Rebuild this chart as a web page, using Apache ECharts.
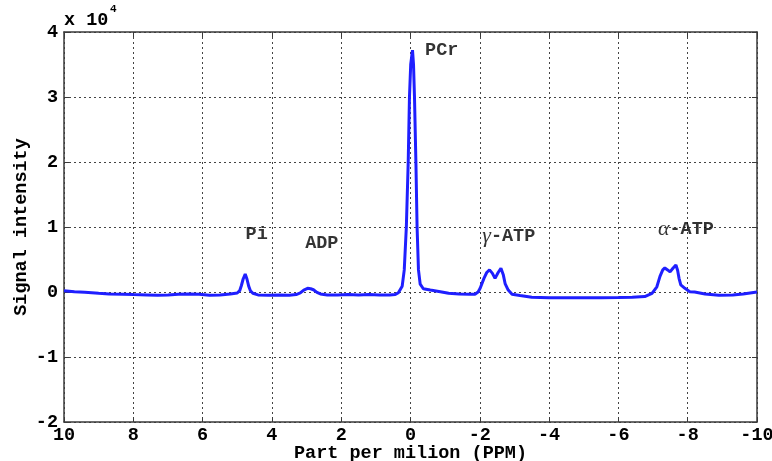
<!DOCTYPE html>
<html>
<head>
<meta charset="utf-8">
<script src="https://cdn.jsdelivr.net/npm/echarts@6/dist/echarts.min.js"></script>
<style>
html,body{margin:0;padding:0;background:#fff;}
#chart{width:772px;height:461px;}
</style>
</head>
<body>
<div id="chart"></div>
<script>
// Spectrum: chemical shift (ppm) and intensity (x 10^4)
var ppm = [10.0,9.7,9.4,9.0,8.7,8.3,8.0,7.6,7.3,7.0,6.7,6.4,6.1,5.8,5.5,5.2,5.0,4.93,4.88,4.83,4.77,4.72,4.67,4.62,4.55,4.4,4.1,3.8,3.5,3.3,3.18,3.08,2.97,2.88,2.8,2.7,2.6,2.4,2.1,1.8,1.5,1.2,0.9,0.6,0.44,0.35,0.30,0.24,0.18,0.12,0.066,0.03,-0.006,-0.058,-0.087,-0.115,-0.156,-0.19,-0.23,-0.28,-0.37,-0.57,-0.86,-1.1,-1.4,-1.7,-1.86,-1.95,-2.01,-2.12,-2.2,-2.28,-2.36,-2.44,-2.53,-2.61,-2.68,-2.73,-2.82,-2.93,-3.16,-3.5,-4.0,-4.5,-5.0,-5.5,-6.0,-6.4,-6.76,-6.97,-7.11,-7.2,-7.28,-7.34,-7.42,-7.49,-7.58,-7.66,-7.71,-7.75,-7.8,-7.92,-8.06,-8.2,-8.5,-8.9,-9.3,-9.6,-10.0];
var signal = [0.02,0.005,-0.005,-0.02,-0.03,-0.035,-0.04,-0.045,-0.05,-0.045,-0.035,-0.03,-0.035,-0.05,-0.045,-0.03,-0.015,0.02,0.1,0.2,0.275,0.2,0.09,0.02,-0.02,-0.045,-0.05,-0.045,-0.05,-0.04,-0.015,0.03,0.057,0.05,0.035,-0.005,-0.03,-0.045,-0.045,-0.04,-0.045,-0.04,-0.045,-0.045,-0.04,-0.01,0.015,0.09,0.34,1.0,2.0,3.0,3.5,3.72,3.5,3.0,2.0,1.0,0.34,0.12,0.05,0.03,0.005,-0.02,-0.03,-0.035,-0.035,0.0,0.057,0.21,0.3,0.34,0.29,0.21,0.3,0.365,0.26,0.13,0.03,-0.035,-0.055,-0.08,-0.09,-0.09,-0.09,-0.09,-0.085,-0.08,-0.07,-0.02,0.08,0.24,0.34,0.37,0.34,0.31,0.37,0.415,0.33,0.21,0.11,0.057,0.005,0.0,-0.03,-0.05,-0.045,-0.03,0.0];
// Peak annotations
var peakNames = ['Pi','ADP','PCr','{g|\u03b3}-ATP','{g|\u03b1}-ATP'];
var peakX = [4.76,3.04,-0.42,-2.07,-7.14];
var peakY = [0.88,0.75,3.72,0.86,0.97];
// Ticks
var xTicks = [10,8,6,4,2,0,-2,-4,-6,-8,-10];
var yTicks = [-2,-1,0,1,2,3,4];

var SCALE = 1e4;
var lineData = ppm.map(function(p,i){return [p, signal[i]*SCALE];});
var labelData = peakNames.map(function(n,i){return {name:n, value:[peakX[i], peakY[i]*SCALE]};});

var FONT = 'Liberation Mono';
var TXT = '#000';
var FS = 18.5;
var tickFont = {fontFamily:FONT, fontWeight:'bold', fontSize:FS, color:TXT};
var gridLine = {show:true, lineStyle:{color:'#444', type:[2,3], width:1}};
var axLine = {show:true, onZero:false, lineStyle:{color:'#3a3a3a', width:1.5}};
var tick = {show:true, inside:true, length:5, lineStyle:{color:'#3a3a3a'}};

var chart = echarts.init(document.getElementById('chart'), null, {renderer:'canvas'});
chart.setOption({
  animation:false,
  backgroundColor:'#fff',
  grid:{left:64, right:15, top:32, bottom:39, containLabel:false, outerBoundsMode:'none'},
  xAxis:[{
    type:'value', min:-10, max:10, interval:2, inverse:true,
    axisLine:axLine, axisTick:tick, splitLine:gridLine,
    axisLabel:Object.assign({margin:4, formatter:function(v){return xTicks.indexOf(v)>=0?String(v):'';}}, tickFont),
    name:'Part per milion (PPM)', nameLocation:'middle', nameGap:22, nameMoveOverlap:false,
    nameTextStyle:{fontFamily:FONT, fontWeight:'bold', fontSize:FS, color:TXT}
  },{
    type:'value', min:-10, max:10, interval:2, inverse:true, position:'top',
    axisLine:axLine, axisTick:tick, splitLine:{show:false}, axisLabel:{show:false}
  }],
  yAxis:[{
    type:'value', min:-2*SCALE, max:4*SCALE, interval:SCALE,
    axisLine:axLine, axisTick:tick, splitLine:gridLine,
    axisLabel:Object.assign({margin:6, formatter:function(v){return String(v/SCALE);}}, tickFont),
    name:'Signal intensity', nameLocation:'middle', nameGap:33, nameMoveOverlap:false,
    nameTextStyle:{fontFamily:FONT, fontWeight:'bold', fontSize:FS, color:TXT}
  },{
    type:'value', min:-2*SCALE, max:4*SCALE, interval:SCALE, position:'right',
    axisLine:axLine, axisTick:tick, splitLine:{show:false}, axisLabel:{show:false}
  }],
  series:[{
    type:'line', data:lineData, showSymbol:false, smooth:false,
    lineStyle:{color:'#1f1fff', width:3}, z:3
  },{
    type:'scatter', data:labelData, symbolSize:0, z:4,
    label:{show:true, position:[0,0], align:'left', verticalAlign:'middle',
      formatter:function(p){return p.name;},
      fontFamily:FONT, fontWeight:'bold', fontSize:FS, color:TXT,
      rich:{g:{fontFamily:'Liberation Serif', fontStyle:'italic', fontWeight:'normal', fontSize:22, color:TXT}}
    }
  }],
  graphic:[
    {type:'text', left:64, top:11, style:{text:'x 10', fontFamily:FONT, fontWeight:'bold', fontSize:FS, fill:TXT}},
    {type:'text', left:110, top:4, style:{text:'4', fontFamily:FONT, fontWeight:'bold', fontSize:11, fill:TXT}}
  ]
});
</script>
</body>
</html>
